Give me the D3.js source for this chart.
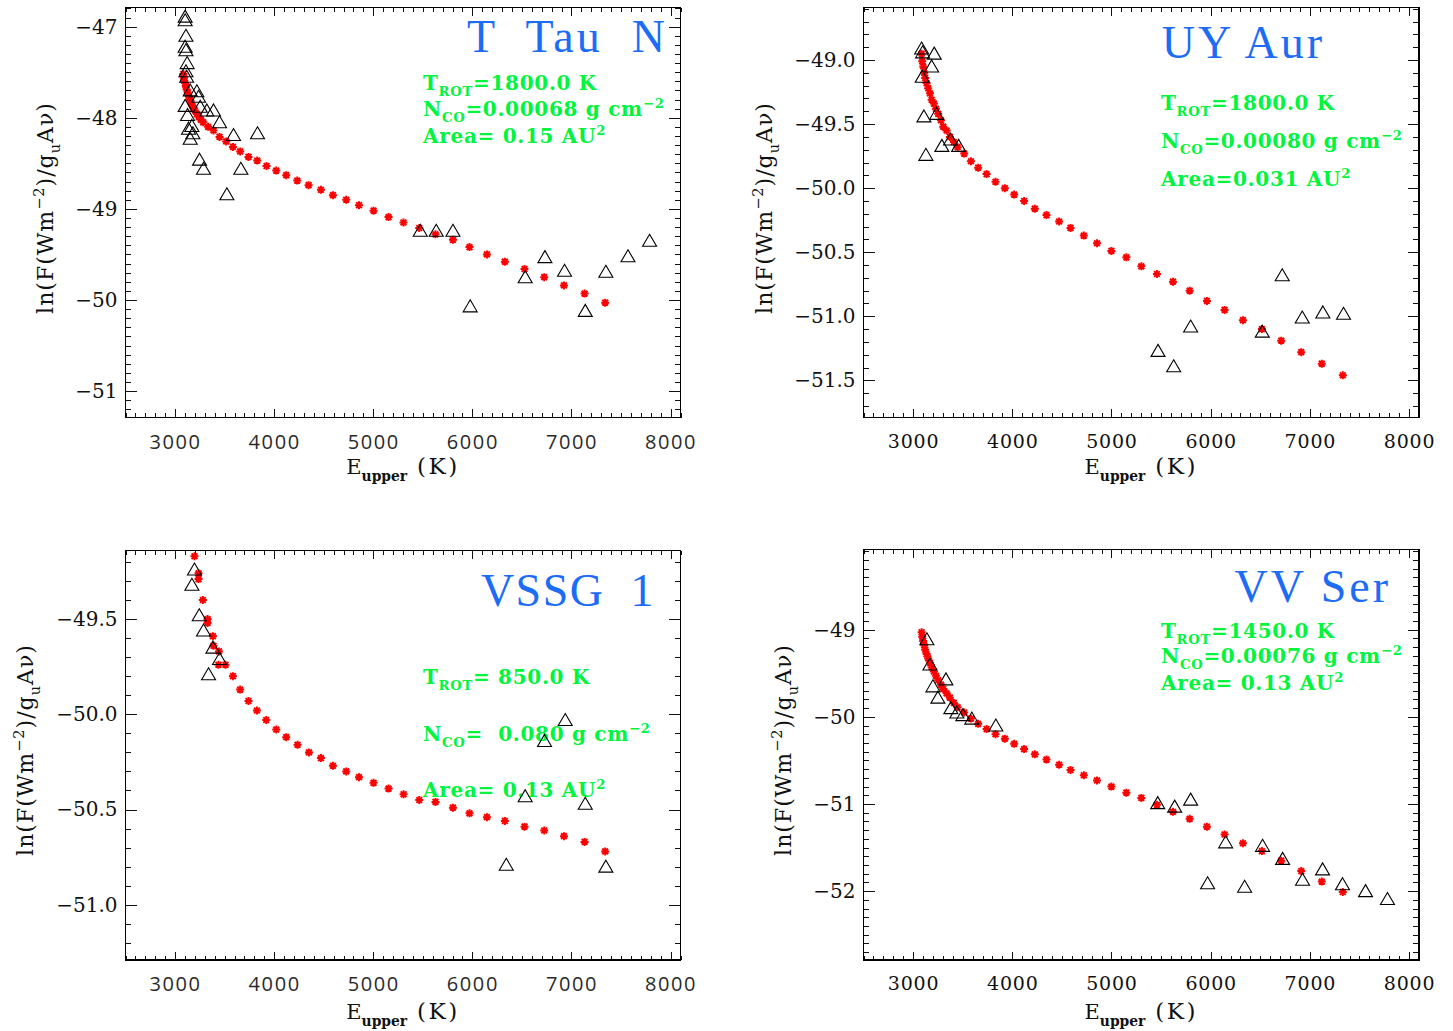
<!DOCTYPE html>
<html>
<head>
<meta charset="utf-8">
<script src="https://cdn.jsdelivr.net/npm/d3@7"></script>
<style>
  html, body { margin: 0; padding: 0; background: #fff; }
  svg { display: block; }
  text { white-space: pre; }
</style>
</head>
<body>
<svg id="chart" width="1453" height="1031"></svg>
<script>
// ---------- Shared axis values ----------
const xDomain = [2500, 8100];
const xTickValues = [3000, 4000, 5000, 6000, 7000, 8000];

// ---------- T Tau N ----------
const tTauObsE = [3102, 3102, 3110, 3102, 3110, 3122, 3110, 3117, 3153, 3220, 3237, 3254, 3102, 3126,
  3170, 3136, 3180, 3153, 3321, 3388, 3449, 3590, 3832, 3247, 3287, 3664, 3523,
  5474, 5635, 5804, 5978, 6533, 6732, 6930, 7139, 7347, 7570, 7788];
const tTauObsFlux = [-46.89, -46.93, -47.10, -47.22, -47.26, -47.40, -47.49, -47.55, -47.70, -47.71, -47.77, -47.88, -47.87, -47.97,
  -48.09, -48.12, -48.17, -48.23, -47.92, -47.92, -48.05, -48.19, -48.17, -48.46, -48.56, -48.56, -48.84,
  -49.24, -49.24, -49.24, -50.07, -49.75, -49.53, -49.68, -50.12, -49.69, -49.52, -49.35];
const tTauModE = [3084, 3088, 3092, 3101, 3110, 3117, 3130, 3140, 3155, 3167, 3185, 3200, 3220, 3239, 3260, 3284,
  3333, 3388, 3449, 3516, 3584, 3657, 3741, 3829, 3923, 4021, 4122, 4233, 4347, 4472, 4593, 4727, 4856,
  5003, 5154, 5305, 5464, 5628, 5804, 5971, 6147, 6328, 6526, 6725, 6924, 7132, 7340];
const tTauModFlux = [-47.52, -47.56, -47.59, -47.62, -47.66, -47.69, -47.73, -47.77, -47.81, -47.85, -47.89, -47.92, -47.96, -47.99, -48.02, -48.05,
  -48.10, -48.14, -48.21, -48.26, -48.32, -48.37, -48.43, -48.47, -48.53, -48.58, -48.63, -48.69, -48.74, -48.79, -48.85, -48.90, -48.96,
  -49.02, -49.09, -49.15, -49.21, -49.28, -49.34, -49.42, -49.50, -49.58, -49.66, -49.75, -49.84, -49.93, -50.03];
const tTauYTicks = [-51, -50, -49, -48, -47];

// ---------- UY Aur ----------
const uyAurObsE = [3086, 3096, 3213, 3187, 3092, 3109, 3237, 3290, 3378, 3459, 3129,
  5469, 5627, 5798, 6520, 6721, 6923, 7131, 7339];
const uyAurObsFlux = [-48.91, -48.94, -48.95, -49.05, -49.13, -49.44, -49.42, -49.67, -49.62, -49.67, -49.74,
  -51.27, -51.39, -51.08, -51.12, -50.68, -51.01, -50.97, -50.98];
const uyAurModE = [3086, 3092, 3102, 3112, 3122, 3136, 3152, 3170, 3187, 3210, 3230, 3253, 3281, 3304, 3338, 3371,
  3411, 3449, 3515, 3583, 3656, 3741, 3831, 3925, 4019, 4119, 4227, 4345, 4472, 4587, 4721, 4854, 4999,
  5150, 5301, 5458, 5620, 5788, 5962, 6140, 6325, 6516, 6711, 6913, 7120, 7332];
const uyAurModFlux = [-48.95, -49.01, -49.05, -49.10, -49.14, -49.18, -49.22, -49.26, -49.31, -49.34, -49.38, -49.42, -49.47, -49.52, -49.55, -49.60,
  -49.64, -49.68, -49.73, -49.79, -49.84, -49.89, -49.95, -50.00, -50.05, -50.10, -50.16, -50.21, -50.26, -50.31, -50.37, -50.43, -50.49,
  -50.54, -50.61, -50.67, -50.73, -50.80, -50.88, -50.95, -51.03, -51.10, -51.19, -51.28, -51.37, -51.46];
const uyAurYTicks = [-51.5, -51.0, -50.5, -50.0, -49.5, -49.0];

// ---------- VSSG 1 ----------
const vssgObsE = [3196, 3170, 3244, 3287, 3382, 3449, 3338, 6937, 6728, 6533, 7139, 6342, 7347];
const vssgObsFlux = [-49.24, -49.32, -49.48, -49.56, -49.65, -49.71, -49.79, -50.03, -50.14, -50.43, -50.47, -50.79, -50.80];
const vssgModE = [3196, 3237, 3237, 3281, 3328, 3328, 3382, 3388, 3443, 3438, 3509, 3584, 3657, 3741, 3826, 3920,
  4021, 4122, 4236, 4351, 4472, 4593, 4727, 4856, 5003, 5154, 5306, 5464, 5628, 5804, 5971, 6147,
  6328, 6526, 6725, 6924, 7132, 7340];
const vssgModFlux = [-49.17, -49.26, -49.29, -49.40, -49.50, -49.52, -49.59, -49.64, -49.67, -49.74, -49.74, -49.80, -49.87, -49.93, -49.98, -50.03,
  -50.08, -50.12, -50.16, -50.20, -50.23, -50.27, -50.30, -50.33, -50.36, -50.39, -50.42, -50.45, -50.46, -50.49, -50.52, -50.54,
  -50.56, -50.59, -50.61, -50.64, -50.67, -50.72];
const vssgYTicks = [-51.0, -50.5, -50.0, -49.5];

// ---------- VV Ser ----------
const vvSerObsE = [3139, 3170, 3200, 3250, 3331, 3381, 3441, 3502, 3592, 3834,
  5466, 5637, 5798, 5969, 6151, 6342, 6523, 6725, 6926, 7128, 7329, 7561, 7782];
const vvSerObsFlux = [-49.11, -49.40, -49.65, -49.78, -49.57, -49.90, -49.95, -49.98, -50.02, -50.10,
  -50.99, -51.03, -50.95, -51.91, -51.44, -51.95, -51.48, -51.63, -51.87, -51.75, -51.92, -52.00, -52.09];
const vvSerModE = [3086, 3092, 3102, 3112, 3122, 3136, 3152, 3170, 3187, 3210, 3230, 3253, 3281, 3304, 3338, 3371,
  3411, 3449, 3515, 3583, 3656, 3741, 3831, 3925, 4019, 4119, 4227, 4345, 4472, 4587, 4721, 4854, 4999,
  5150, 5301, 5458, 5620, 5788, 5962, 6140, 6325, 6516, 6711, 6913, 7120, 7332];
const vvSerModFlux = [-49.03, -49.08, -49.13, -49.18, -49.23, -49.28, -49.33, -49.38, -49.43, -49.48, -49.53, -49.58, -49.63, -49.68, -49.73, -49.78,
  -49.84, -49.89, -49.95, -50.02, -50.08, -50.14, -50.20, -50.25, -50.31, -50.37, -50.43, -50.49, -50.55, -50.61, -50.67, -50.73, -50.80,
  -50.87, -50.93, -51.01, -51.09, -51.17, -51.26, -51.35, -51.45, -51.54, -51.65, -51.77, -51.89, -52.01];
const vvSerYTicks = [-52, -51, -50, -49];

// ---------- Panel labels ----------
const panelNames = ["T  Tau  N", "UY Aur", "VSSG  1", "VV Ser"];
const fitLines = [
  [[{t: "T"}, {t: "ROT", sub: true}, {t: "=1800.0 K"}],
   [{t: "N"}, {t: "CO", sub: true}, {t: "=0.00068 g cm"}, {t: "−2", sup: true}],
   [{t: "Area= 0.15 AU"}, {t: "2", sup: true}]],
  [[{t: "T"}, {t: "ROT", sub: true}, {t: "=1800.0 K"}],
   [{t: "N"}, {t: "CO", sub: true}, {t: "=0.00080 g cm"}, {t: "−2", sup: true}],
   [{t: "Area=0.031 AU"}, {t: "2", sup: true}]],
  [[{t: "T"}, {t: "ROT", sub: true}, {t: "= 850.0 K"}],
   [{t: "N"}, {t: "CO", sub: true}, {t: "=  0.080 g cm"}, {t: "−2", sup: true}],
   [{t: "Area= 0.13 AU"}, {t: "2", sup: true}]],
  [[{t: "T"}, {t: "ROT", sub: true}, {t: "=1450.0 K"}],
   [{t: "N"}, {t: "CO", sub: true}, {t: "=0.00076 g cm"}, {t: "−2", sup: true}],
   [{t: "Area= 0.13 AU"}, {t: "2", sup: true}]]
];
const yTitleParts = [{t: "ln(F(Wm"}, {t: "−2", sup: true}, {t: ")/g"}, {t: "u", sub: true}, {t: "Aν)"}];
const xTitleParts = [{t: "E"}, {t: "upper", sub: true, bold: true}, {t: " (K)", big: true}];

// ---------- Layout ----------
const SERIF = "'DejaVu Serif', 'Liberation Serif', serif";
const TITLE_FONT = "'Liberation Serif', 'DejaVu Serif', serif";
const SANS = "'Open Sans', 'DejaVu Sans', sans-serif";
const BLUE = "#1c6cf6";
const GREEN = "#00f53c";

const panels = [
  {obsE: tTauObsE, obsF: tTauObsFlux, modE: tTauModE, modF: tTauModFlux, yTicks: tTauYTicks,
   left: 125.5, right: 680.5, top: 7.5, bottom: 417.5, yDomain: [-51.29, -46.79], yFmt: ".0f", xSans: true,
   name: 0, nameX: 668, nameY: 52, nameSpacing: 3, fitX: 423, fitY: [90, 116, 143],
   yTitleX: 53, yTitleY: 208, xTitleY: 474},
  {obsE: uyAurObsE, obsF: uyAurObsFlux, modE: uyAurModE, modF: uyAurModFlux, yTicks: uyAurYTicks,
   left: 863.5, right: 1419, top: 7.5, bottom: 417.5, yDomain: [-51.79, -48.59], yFmt: ".1f", xSans: false,
   name: 1, nameX: 1325, nameY: 58, nameSpacing: 3, fitX: 1161, fitY: [110, 148, 186],
   yTitleX: 772, yTitleY: 208, xTitleY: 474},
  {obsE: vssgObsE, obsF: vssgObsFlux, modE: vssgModE, modF: vssgModFlux, yTicks: vssgYTicks,
   left: 125.5, right: 680.5, top: 550.5, bottom: 960, yDomain: [-51.29, -49.14], yFmt: ".1f", xSans: true,
   name: 2, nameX: 655, nameY: 606, nameSpacing: 1.5, fitX: 423, fitY: [684, 741, 797],
   yTitleX: 33, yTitleY: 750, xTitleY: 1019},
  {obsE: vvSerObsE, obsF: vvSerObsFlux, modE: vvSerModE, modF: vvSerModFlux, yTicks: vvSerYTicks,
   left: 863.5, right: 1419, top: 549.5, bottom: 960, yDomain: [-52.79, -48.08], yFmt: ".0f", xSans: false,
   name: 3, nameX: 1391, nameY: 602, nameSpacing: 3, fitX: 1161, fitY: [638, 663, 690],
   yTitleX: 791, yTitleY: 750, xTitleY: 1019}
];

const svg = d3.select("#chart");

// Writes text made of plain, subscript and superscript runs.
function richText(sel, parts, size) {
  let offset = 0;
  parts.forEach(p => {
    const target = p.sub ? size * 0.32 : (p.sup ? -size * 0.42 : 0);
    const ts = sel.append("tspan").attr("dy", target - offset).text(p.t);
    if (p.sub || p.sup) ts.attr("font-size", size * 0.66);
    if (p.big) ts.attr("font-size", size * 1.1).attr("letter-spacing", 2.5);
    if (p.bold) ts.attr("font-weight", "bold");
    offset = target;
  });
}

const triangle = "M0,-6.5L7,5.5L-7,5.5Z";
const asterR = 4;
const asterisk = `M${-asterR},0H${asterR}M0,${-asterR}V${asterR}` +
  `M${-asterR * 0.72},${-asterR * 0.72}L${asterR * 0.72},${asterR * 0.72}` +
  `M${-asterR * 0.72},${asterR * 0.72}L${asterR * 0.72},${-asterR * 0.72}`;

function minorTicks(domain, step) {
  const lo = Math.ceil(Math.min(...domain) / step - 1e-9);
  const hi = Math.floor(Math.max(...domain) / step + 1e-9);
  return d3.range(lo, hi + 1).map(k => +(k * step).toFixed(4));
}

function styleAxis(g) {
  g.select(".domain").remove();
  g.selectAll(".tick line").attr("stroke", "#111").attr("stroke-width", 1);
  g.attr("shape-rendering", "crispEdges");
}

panels.forEach(p => {
  const x = d3.scaleLinear().domain(xDomain).range([p.left, p.right]);
  const y = d3.scaleLinear().domain(p.yDomain).range([p.bottom, p.top]);
  const g = svg.append("g");
  const xLen = (p.bottom - p.top) * 0.02;
  const yLen = (p.right - p.left) * 0.02;
  const xMinor = minorTicks(xDomain, 100);
  const yMinor = minorTicks(p.yDomain, 0.1);

  // Star name
  g.append("text")
    .attr("x", p.nameX).attr("y", p.nameY)
    .attr("text-anchor", "end")
    .attr("font-family", TITLE_FONT).attr("font-size", 46)
    .attr("letter-spacing", p.nameSpacing)
    .attr("fill", BLUE)
    .text(panelNames[p.name]);

  // Fit parameters
  fitLines[p.name].forEach((line, i) => {
    const t = g.append("text")
      .attr("x", p.fitX).attr("y", p.fitY[i])
      .attr("font-family", SERIF).attr("font-weight", "bold")
      .attr("font-size", 20).attr("letter-spacing", 0.7).attr("fill", GREEN);
    richText(t, line, 20);
  });

  // Model line fluxes (red asterisks)
  g.append("g").selectAll("path")
    .data(d3.zip(p.modE, p.modF))
    .join("path")
    .attr("transform", d => `translate(${x(d[0])},${y(d[1])})`)
    .attr("d", asterisk)
    .attr("stroke", "#ff0000").attr("stroke-width", 2).attr("fill", "none");

  // Observed line fluxes (open triangles)
  g.append("g").selectAll("path")
    .data(d3.zip(p.obsE, p.obsF))
    .join("path")
    .attr("transform", d => `translate(${x(d[0])},${y(d[1])})`)
    .attr("d", triangle)
    .attr("stroke", "#000").attr("stroke-width", 1.1).attr("fill", "none");

  // Axes: minor and major ticks on all four sides, pointing inward
  const fmtY = d3.format(p.yFmt);
  const xFont = p.xSans ? SANS : SERIF;

  g.append("g").attr("transform", `translate(0,${p.bottom})`)
    .call(d3.axisBottom(x).tickValues(xMinor).tickSize(-xLen / 2).tickFormat(""))
    .call(styleAxis);
  const bx = g.append("g").attr("transform", `translate(0,${p.bottom})`)
    .call(d3.axisBottom(x).tickValues(xTickValues).tickSize(-xLen).tickPadding(17).tickFormat(d3.format("d")))
    .call(styleAxis);
  bx.attr("font-family", xFont).attr("font-size", p.xSans ? 20 : 19);
  bx.selectAll("text").attr("fill", p.xSans ? "#2a2a2a" : "#111")
    .attr("letter-spacing", p.xSans ? 1.6 : 0.8);

  g.append("g").attr("transform", `translate(0,${p.top})`)
    .call(d3.axisTop(x).tickValues(xMinor).tickSize(-xLen / 2).tickFormat(""))
    .call(styleAxis);
  g.append("g").attr("transform", `translate(0,${p.top})`)
    .call(d3.axisTop(x).tickValues(xTickValues).tickSize(-xLen).tickFormat(""))
    .call(styleAxis);

  g.append("g").attr("transform", `translate(${p.left},0)`)
    .call(d3.axisLeft(y).tickValues(yMinor).tickSize(-yLen / 2).tickFormat(""))
    .call(styleAxis);
  const ly = g.append("g").attr("transform", `translate(${p.left},0)`)
    .call(d3.axisLeft(y).tickValues(p.yTicks).tickSize(-yLen).tickPadding(8).tickFormat(fmtY))
    .call(styleAxis);
  ly.attr("font-family", SERIF).attr("font-size", 20);
  ly.selectAll("text").attr("fill", "#111");

  g.append("g").attr("transform", `translate(${p.right},0)`)
    .call(d3.axisRight(y).tickValues(yMinor).tickSize(-yLen / 2).tickFormat(""))
    .call(styleAxis);
  g.append("g").attr("transform", `translate(${p.right},0)`)
    .call(d3.axisRight(y).tickValues(p.yTicks).tickSize(-yLen).tickFormat(""))
    .call(styleAxis);

  // Plot frame
  g.append("rect")
    .attr("x", p.left).attr("y", p.top)
    .attr("width", p.right - p.left).attr("height", p.bottom - p.top)
    .attr("fill", "none").attr("stroke", "#000").attr("stroke-width", 1.2)
    .attr("shape-rendering", "crispEdges");

  // Axis titles
  const yt = g.append("text")
    .attr("transform", `translate(${p.yTitleX},${p.yTitleY}) rotate(-90)`)
    .attr("text-anchor", "middle")
    .attr("font-family", SERIF).attr("font-size", 22).attr("letter-spacing", 1)
    .attr("fill", "#111");
  richText(yt, yTitleParts, 22);

  const xt = g.append("text")
    .attr("x", (p.left + p.right) / 2).attr("y", p.xTitleY)
    .attr("text-anchor", "middle")
    .attr("font-family", SERIF).attr("font-size", 21).attr("fill", "#111");
  richText(xt, xTitleParts, 21);
});
</script>
</body>
</html>
